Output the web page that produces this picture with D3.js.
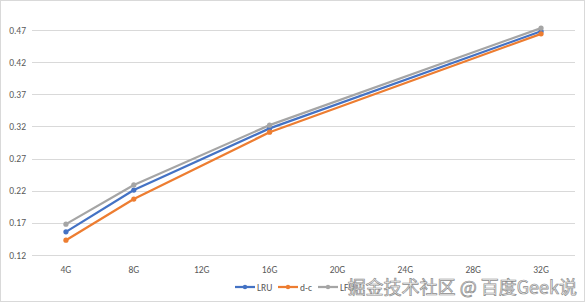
<!DOCTYPE html>
<html>
<head>
<meta charset="utf-8">
<script src="https://cdn.jsdelivr.net/npm/d3@7"></script>
<style>
  body { margin: 0; background: #fff; }
  svg { display: block; }
</style>
</head>
<body>
<svg width="587" height="303"></svg>
<script>
// категории оси X (ось категорий, как в Excel)
const categories = ["4G", "8G", "12G", "16G", "20G", "24G", "28G", "32G"];
// точки, для которых есть измерения
const measured = ["4G", "8G", "16G", "32G"];
const yTicks = [0.12, 0.17, 0.22, 0.27, 0.32, 0.37, 0.42, 0.47];

const lru = [0.156, 0.221, 0.317, 0.468];
const dc = [0.143, 0.207, 0.311, 0.464];
const lfu = [0.168, 0.229, 0.322, 0.473];

const seriesNames = ["LRU", "d-c", "LFU"];
const seriesColors = ["#4472C4", "#ED7D31", "#A5A5A5"];

const svg = d3.select("svg");
const width = +svg.attr("width");
const height = +svg.attr("height");

// рамка области диаграммы
svg.append("rect")
    .attr("x", 0.5).attr("y", 0.5)
    .attr("width", width - 3).attr("height", height - 2)
    .attr("fill", "#fff")
    .attr("stroke", "#d9d9d9");

const plotLeft = 32, plotRight = 575, plotTop = 30, plotBottom = 255;

const x = d3.scalePoint()
    .domain(categories)
    .range([plotLeft, plotRight])
    .padding(0.5);

const y = d3.scaleLinear()
    .domain([0.12, 0.47])
    .range([plotBottom, plotTop]);

// горизонтальная сетка
svg.append("g")
    .selectAll("line")
    .data(yTicks)
    .join("line")
    .attr("x1", plotLeft).attr("x2", plotRight)
    .attr("y1", d => Math.round(y(d)) + 0.5)
    .attr("y2", d => Math.round(y(d)) + 0.5)
    .attr("stroke", "#d9d9d9")
    .attr("stroke-width", 1);

// подписи оси Y
svg.append("g")
    .selectAll("text")
    .data(yTicks)
    .join("text")
    .attr("x", 26)
    .attr("y", d => y(d) + 3.5)
    .attr("text-anchor", "end")
    .attr("font-family", "Calibri, Carlito, 'Liberation Sans', sans-serif")
    .attr("font-size", 9.5)
    .attr("fill", "#595959")
    .text(d => d.toFixed(2));

// подписи оси X
svg.append("g")
    .selectAll("text")
    .data(categories)
    .join("text")
    .attr("x", d => x(d))
    .attr("y", 273)
    .attr("text-anchor", "middle")
    .attr("font-family", "Calibri, Carlito, 'Liberation Sans', sans-serif")
    .attr("font-size", 9.5)
    .attr("fill", "#595959")
    .text(d => d);

const line = d3.line()
    .x(d => x(d.cat))
    .y(d => y(d.v));

[lru, dc, lfu].forEach((vals, i) => {
    const pts = vals.map((v, j) => ({ cat: measured[j], v }));
    svg.append("path")
        .attr("d", line(pts))
        .attr("fill", "none")
        .attr("stroke", seriesColors[i])
        .attr("stroke-width", 2.25)
        .attr("stroke-linejoin", "round");
    svg.append("g")
        .selectAll("circle")
        .data(pts)
        .join("circle")
        .attr("cx", d => x(d.cat))
        .attr("cy", d => y(d.v))
        .attr("r", 2.6)
        .attr("fill", seriesColors[i]);
});

// легенда
const legendX = [235, 278, 318];
seriesNames.forEach((name, i) => {
    const g = svg.append("g").attr("transform", `translate(${legendX[i]},287)`);
    g.append("line")
        .attr("x1", 0).attr("x2", 20)
        .attr("stroke", seriesColors[i])
        .attr("stroke-width", 2.25);
    g.append("circle").attr("cx", 10).attr("r", 2.2).attr("fill", seriesColors[i]);
    g.append("text")
        .attr("x", 22).attr("y", 3.5)
        .attr("font-family", "Calibri, Carlito, 'Liberation Sans', sans-serif")
        .attr("font-size", 9.5)
        .attr("fill", "#595959")
        .text(name);
});

// водяной знак
svg.append("text")
    .attr("x", 577).attr("y", 294)
    .attr("text-anchor", "end")
    .attr("font-family", "'Noto Sans CJK SC', sans-serif")
    .attr("font-size", 18)
    .attr("fill", "#f2f2f2")
    .attr("stroke", "#8c8c8c")
    .attr("stroke-width", 0.7)
    .text("掘金技术社区 @ 百度Geek说");
</script>
</body>
</html>
